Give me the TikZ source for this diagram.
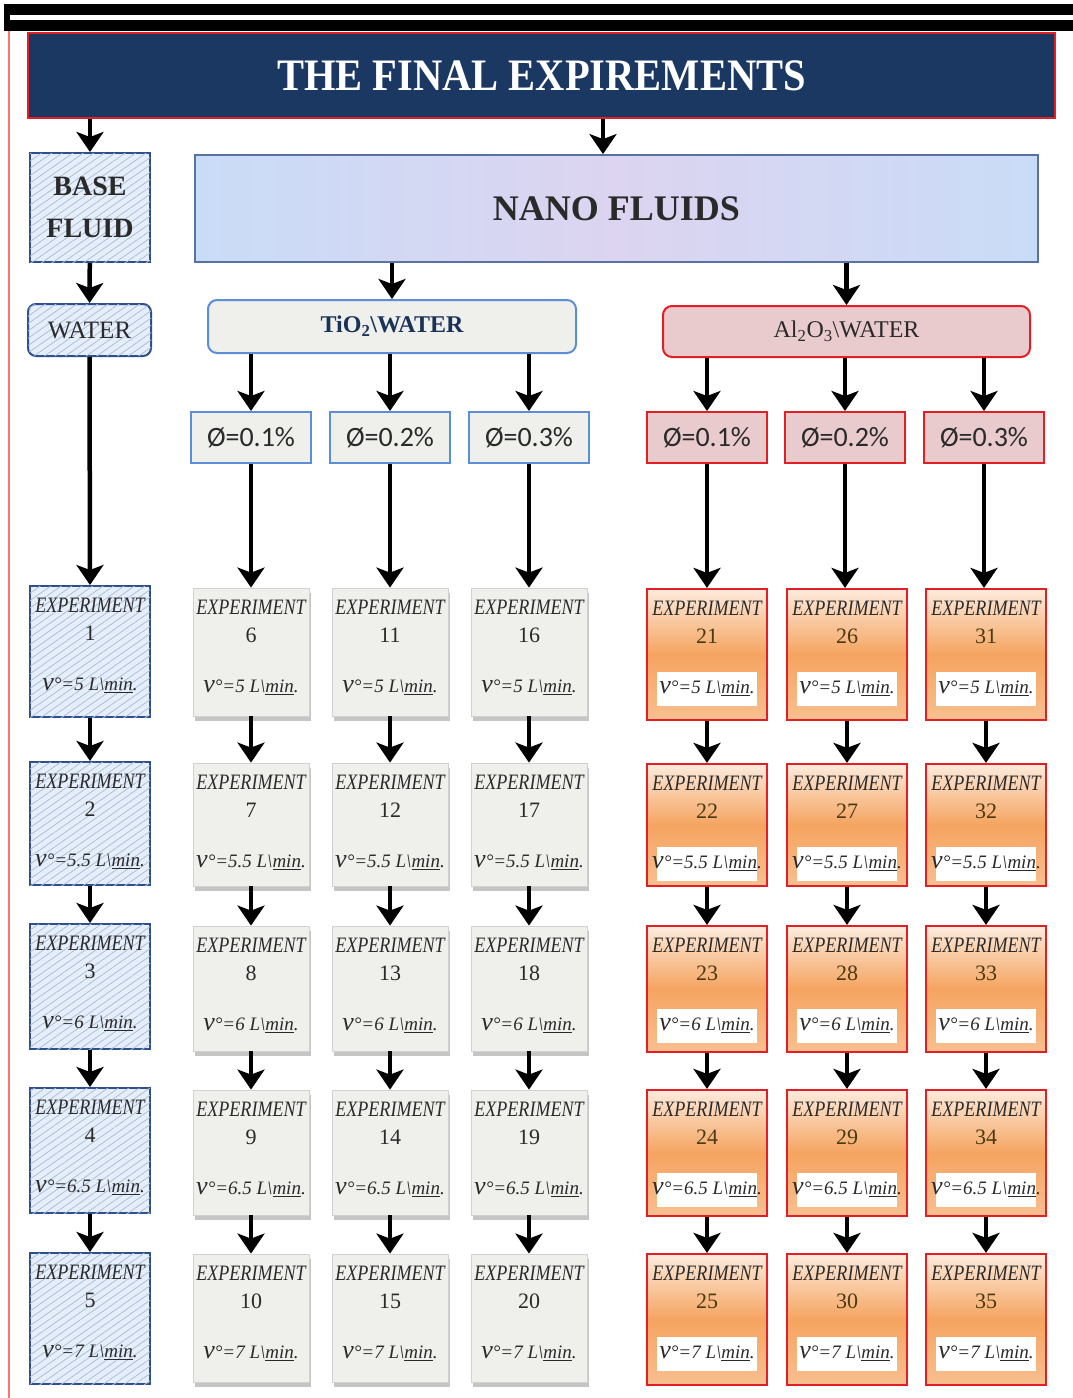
\documentclass[tikz,border=0pt]{standalone}
\usepackage{fontspec}
\setmainfont{Liberation Serif}
\newfontfamily\calib{Carlito}
\usepackage{graphicx}
\usetikzlibrary{arrows.meta,shadows,patterns.meta}

\definecolor{navy}{HTML}{1B3862}
\definecolor{bluebd}{HTML}{2E4F8A}
\definecolor{medblue}{HTML}{5B8ED6}
\definecolor{redbd}{HTML}{E31F26}
\definecolor{pinkfill}{HTML}{E9CACD}
\definecolor{grayfill}{HTML}{EFEFEC}
\definecolor{basefill}{HTML}{E6EEF9}
\definecolor{hatch}{HTML}{A9BFE0}
\definecolor{orangeA}{HTML}{FDEBDD}
\definecolor{orangeB}{HTML}{F5A460}
\definecolor{nanoA}{HTML}{C9DCF7}
\definecolor{nanoB}{HTML}{DCD4F0}
\definecolor{txt}{HTML}{2A2A2A}
\definecolor{numal}{HTML}{4A3A10}

\newcommand\velt[1]{{\fontsize{26}{26}\selectfont v}°=#1 L\textbackslash\underline{min}.}

\tikzset{
  arr/.style={line width=4.5pt,-{Stealth[length=20pt,width=27pt,inset=5pt]}},
  basebox/.style={draw=bluebd,line width=2pt,fill=basefill,
    postaction={pattern={Lines[angle=35,distance=6pt,line width=0.8pt]},pattern color=hatch},
    minimum width=120pt,inner sep=0pt},
  tiobox/.style={draw=gray!35,line width=0.8pt,fill=grayfill,
    drop shadow={shadow xshift=1.5pt,shadow yshift=-5pt,opacity=0.45},
    minimum width=116pt,inner sep=0pt},
  albox/.style={draw=redbd,line width=2.2pt,top color=orangeA,bottom color=orangeB!70,middle color=orangeB,
    minimum width=120pt,inner sep=0pt},
  band/.style={fill=white,minimum width=100pt,minimum height=34pt,inner sep=0pt},
  exptitle/.style={font=\fontsize{22}{24}\selectfont\itshape,text=txt,inner sep=0pt},
  expnum/.style={font=\fontsize{22}{24}\selectfont,text=txt,inner sep=0pt},
  expvel/.style={font=\fontsize{19}{22}\selectfont\itshape,text=txt,inner sep=0pt},
  phitio/.style={draw=medblue,line width=2pt,fill=grayfill,minimum width=120pt,minimum height=51pt,
    font=\calib\fontsize{28}{30}\selectfont,text=txt,inner sep=0pt},
  phial/.style={draw=redbd,line width=2pt,fill=pinkfill,minimum width=120pt,minimum height=51pt,
    font=\calib\fontsize{28}{30}\selectfont,text=txt,inner sep=0pt},
}

\begin{document}
\begin{tikzpicture}[x=1pt,y=-1pt]
\useasboundingbox (0,0) rectangle (1073,1398);
\fill[white] (0,0) rectangle (1073,1398);
% frame
\fill[black] (4,4) rectangle (1073,31);
\fill[white] (10,15) rectangle (1073,20);
\draw[red!55,line width=1.5pt] (9,31) -- (9,1398);

% title
\node[draw=redbd,line width=2.5pt,fill=navy,minimum width=1027pt,minimum height=85pt,inner sep=0pt,
  text=white,font=\bfseries\fontsize{45}{48}\selectfont] (title) at (541.5,75.5)
  {\scalebox{0.9}[1]{THE FINAL EXPIREMENTS}};

% base fluid branch
\node[basebox,minimum width=120pt,minimum height=109pt,align=center,
  font=\bfseries\fontsize{28}{42}\selectfont,text=txt] (base) at (90,207.5) {BASE\\FLUID};
\node[basebox,rounded corners=8pt,minimum width=123pt,minimum height=52pt,
  font=\fontsize{25}{27}\selectfont,text=txt] (water) at (89.5,330) {WATER};

% nano fluids
\node[draw=bluebd!80,line width=1.8pt,left color=nanoA,right color=nanoA,middle color=nanoB,
  minimum width=843pt,minimum height=107pt,inner sep=0pt,
  font=\bfseries\fontsize{36}{40}\selectfont,text=txt] (nano) at (616.5,208.5) {NANO FLUIDS};
\coordinate (tn) at (603,100);

\node[draw=medblue,line width=2pt,fill=grayfill,rounded corners=9pt,minimum width=368pt,minimum height=53pt,
  inner sep=0pt,font=\bfseries\fontsize{24}{26}\selectfont,text=navy!90!black] (tio) at (392,326.5)
  {TiO\textsubscript{2}\textbackslash WATER};
\node[draw=redbd,line width=2pt,fill=pinkfill,rounded corners=9pt,minimum width=367pt,minimum height=51pt,
  inner sep=0pt,font=\fontsize{24}{26}\selectfont,text=txt] (al) at (846.5,331.5)
  {Al\textsubscript{2}O\textsubscript{3}\textbackslash WATER};

% concentration boxes
\node[phitio] (p1) at (251,437.5) {Ø=0.1\%};
\node[phitio] (p2) at (390,437.5) {Ø=0.2\%};
\node[phitio] (p3) at (529,437.5) {Ø=0.3\%};
\node[phial] (p4) at (707,437.5) {Ø=0.1\%};
\node[phial] (p5) at (845,437.5) {Ø=0.2\%};
\node[phial] (p6) at (984,437.5) {Ø=0.3\%};

% experiment boxes
\foreach \k/\cx in {0/90}{
  \foreach \i/\top/\h/\v in {1/586/131/5,2/762/123/5.5,3/924/125/6,4/1088/125/6.5,5/1253/131/7}{
    \pgfmathtruncatemacro\n{5*\k+\i}
    \node[basebox,minimum height=\h pt] (e\n) at (\cx,{\top+\h/2}) {};
    \node[exptitle] (t\n) at (\cx,{\top+19}) {\scalebox{0.82}[1]{EXPERIMENT}};
    \node[expnum] (n\n) at (\cx,{\top+47}) {\n};
    \node[expvel] (v\n) at (\cx,{\top+99}) {\velt{\v}};
  }
}
\foreach \k/\cx in {1/251,2/390,3/529}{
  \foreach \i/\top/\h/\v in {1/588/128/5,2/763/123/5.5,3/926/125/6,4/1090/125/6.5,5/1254/128/7}{
    \pgfmathtruncatemacro\n{5*\k+\i}
    \node[tiobox,minimum height=\h pt] (e\n) at (\cx,{\top+\h/2}) {};
    \node[exptitle] (t\n) at (\cx,{\top+19}) {\scalebox{0.82}[1]{EXPERIMENT}};
    \node[expnum] (n\n) at (\cx,{\top+47}) {\n};
    \node[expvel] (v\n) at (\cx,{\top+99}) {\velt{\v}};
  }
}
\foreach \k/\cx in {4/707,5/847,6/986}{
  \foreach \i/\top/\h/\v in {1/589/131/5,2/764/122/5.5,3/926/126/6,4/1090/126/6.5,5/1254/131/7}{
    \pgfmathtruncatemacro\n{5*\k+\i}
    \node[albox,minimum height=\h pt] (e\n) at (\cx,{\top+\h/2}) {};
    \node[band] (b\n) at (\cx,{\top+100}) {};
    \node[exptitle] (t\n) at (\cx,{\top+19}) {\scalebox{0.82}[1]{EXPERIMENT}};
    \node[expnum,text=numal] (n\n) at (\cx,{\top+47}) {\n};
    \node[expvel] (v\n) at (\cx,{\top+99}) {\velt{\v}};
  }
}

% connectors
\draw[arr] (base.north |- title.south) -- (base.north);
\draw[arr] (title.south -| tn) -- (nano.north -| tn);
\draw[arr] (base) -- (water);
\draw[arr] (water.south) -- (e1.north);
\draw[arr] (tio.north |- nano.south) -- (tio.north);
\draw[arr] (al.north |- nano.south) -- (al.north);
\foreach \p in {1,2,3}{\draw[arr] (p\p.north |- tio.south) -- (p\p.north);}
\foreach \p in {4,5,6}{\draw[arr] (p\p.north |- al.south) -- (p\p.north);}
\foreach \p/\e in {1/6,2/11,3/16,4/21,5/26,6/31}{\draw[arr] (p\p.south) -- (p\p.south |- e\e.north);}
\foreach \k in {0,...,6}{
  \foreach \i in {1,...,4}{
    \pgfmathtruncatemacro\a{5*\k+\i}
    \pgfmathtruncatemacro\b{\a+1}
    \draw[arr] (e\a.south) -- (e\b.north);
  }
}
\end{tikzpicture}
\end{document}
